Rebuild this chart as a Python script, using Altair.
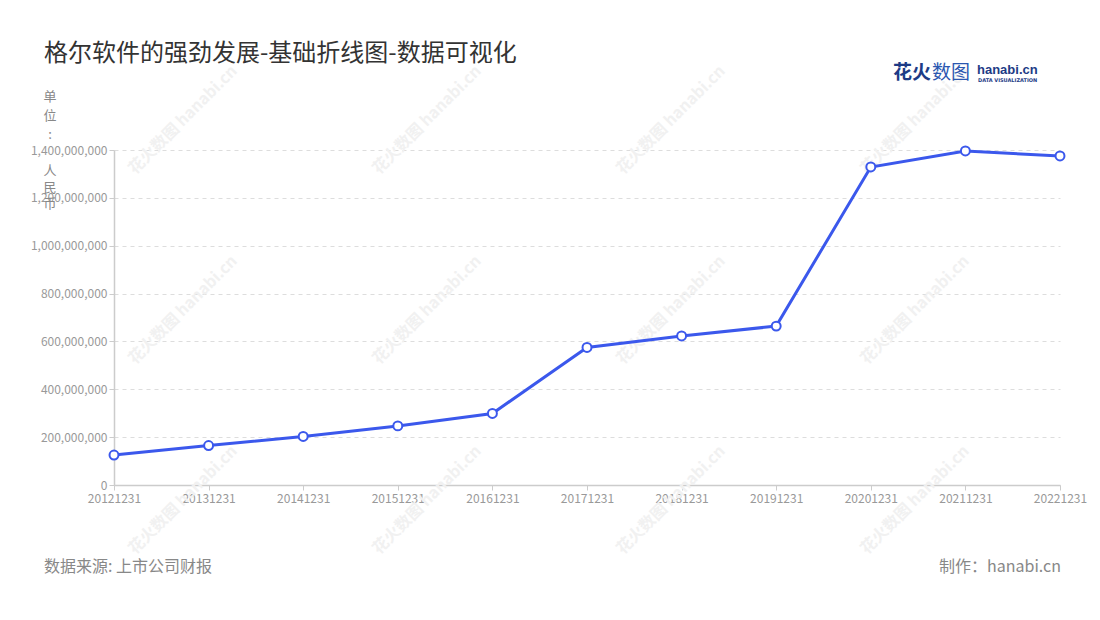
import altair as alt
import pandas as pd

FONT = "Noto Sans CJK SC"

title = "格尔软件的强劲发展-基础折线图-数据可视化"
dates = ["20121231", "20131231", "20141231", "20151231", "20161231", "20171231",
         "20181231", "20191231", "20201231", "20211231", "20221231"]
values = [125e6, 165e6, 203e6, 247e6, 299e6, 575e6, 623e6, 664e6, 1329e6, 1396e6, 1375e6]
y_ticks = [0, 2e8, 4e8, 6e8, 8e8, 1.0e9, 1.2e9, 1.4e9]
unit_top = ["单", "位", ":"]
unit_bottom = ["人", "民", "币"]
source_text = "数据来源: 上市公司财报"
maker_text = "制作：hanabi.cn"

df = pd.DataFrame({"date": dates, "value": values})

BLUE = "#3b58ec"

x_enc = alt.X("date:O", sort=dates, scale=alt.Scale(type="point", padding=0),
              axis=alt.Axis(title=None, labelAngle=0, labelColor="#999999", labelFontSize=12,
                            labelFont=FONT, domainColor="#cccccc", domainWidth=1.5,
                            tickColor="#cccccc", tickSize=5, labelPadding=3, grid=False))
y_enc = alt.Y("value:Q", scale=alt.Scale(domain=[0, 1.4e9], nice=False, zero=True),
              axis=alt.Axis(title=None, values=y_ticks, format=",d", labelColor="#999999",
                            labelFontSize=12, labelFont=FONT, domainColor="#cccccc",
                            domainWidth=1.5, tickColor="#cccccc", tickSize=5, labelPadding=2,
                            grid=True, gridDash=[4, 4], gridColor="#dddddd"))

base = alt.Chart(df)
line = base.mark_line(color=BLUE, strokeWidth=3).encode(x=x_enc, y=y_enc)
points = base.mark_point(filled=True, fill="white", stroke=BLUE, strokeWidth=2,
                         size=80, opacity=1).encode(x=x_enc, y=y_enc)


def txt(s, x, y, font=FONT, **kw):
    return alt.Chart(pd.DataFrame({"t": [s]})).mark_text(font=font, **kw).encode(
        x=alt.value(x), y=alt.value(y), text="t:N")


def vtxt(chars, x, y, lh):
    return alt.Chart(pd.DataFrame({"a": [0]})).mark_text(
        text=chars, font=FONT, fontSize=13, color="#888888", lineHeight=lh,
        align="center", baseline="middle").encode(x=alt.value(x), y=alt.value(y))


# watermarks (faint, rotated)
wm_layers = []
for cx in [183, 427, 671, 915]:
    for cy in [120, 310, 500]:
        wm_layers.append(txt("花火数图 hanabi.cn", cx - 114, cy - 150, angle=315,
                             fontSize=16, fontWeight="bold", color="#f1f1f1",
                             align="center", baseline="middle"))

title_t = txt(title, -70, -96, fontSize=24, color="#333333", align="left", baseline="middle")
unit1 = vtxt(unit_top, -64, -53, 19)
unit2 = vtxt(unit_bottom, -64, 21, 16.5)
src_t = txt(source_text, -70, 417, fontSize=16, color="#888888", align="left", baseline="middle")
mk_t = txt(maker_text, 947, 417, fontSize=16, color="#888888", align="right", baseline="middle")

logo1 = txt("花火", 779, -77, fontSize=19, fontWeight="bold", color="#1d3b86",
            align="left", baseline="middle")
logo2 = txt("数图", 818, -77, fontSize=19, color="#2b57b0", align="left", baseline="middle")
logo3 = txt("hanabi.cn", 863, -80, font="Liberation Sans", fontSize=13, fontWeight="bold",
            color="#1d3b86", align="left", baseline="middle")
logo4 = txt("DATA VISUALIZATION", 864, -70, font="DejaVu Sans", fontSize=5, fontWeight="bold",
            color="#1d3b86", align="left", baseline="middle")

chart = alt.layer(*wm_layers, line, points, title_t, unit1, unit2, src_t, mk_t,
                  logo1, logo2, logo3, logo4).properties(
    width=946, height=335,
    padding={"left": 106, "top": 142, "right": 32, "bottom": 127},
    autosize=alt.AutoSizeParams(type="none"),
    background="white",
).configure_view(stroke=None)

chart.save("out.html", embed_options={"renderer": "svg", "actions": False})
